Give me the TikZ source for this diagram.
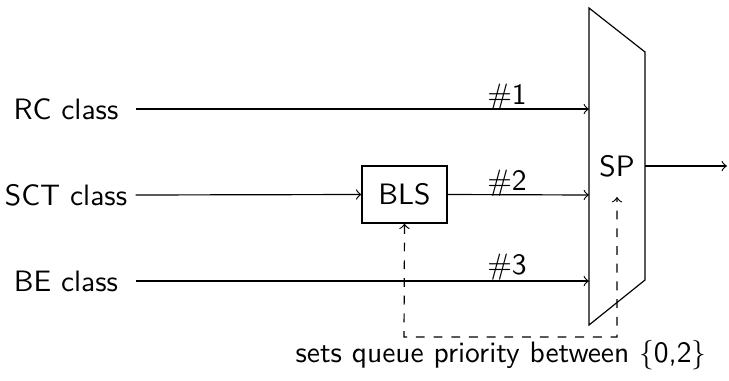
\documentclass[tikz,border=0pt]{standalone}
\usetikzlibrary{arrows}
\begin{document}
\begin{tikzpicture}[x=0.3389pt,y=-0.3389pt,
  font=\sffamily,
  every node/.style={inner sep=0pt},
  cls/.style={minimum width=46.8pt},
  blsbox/.style={draw,minimum width=28.8pt,minimum height=19.3pt},
  lbl/.style={anchor=base},
  conn/.style={->},
  dashconn/.style={<->,dashed}]
\useasboundingbox (0,0) rectangle (729,380);
% SP trapezoid
\draw (589,8) -- (645,52) -- (645,280) -- (589,325) -- cycle;
\node (sp) at (617,166) {SP};
\coordinate (in1) at (589,109);
\coordinate (in2) at (589,195);
\coordinate (in3) at (589,281);
\coordinate (spout) at (645,166);
\coordinate (out) at (727,166);
\coordinate (sel) at (617,197);
% inputs
\node[cls] (rc) at (66,109) {RC class};
\node[cls] (sct) at (66,195) {SCT class};
\node[cls] (be) at (66,281) {BE class};
\node[blsbox] (bls) at (404.5,194.5) {BLS};
\draw[conn] (rc.east) -- (in1);
\draw[conn] (sct.east) -- (bls.west);
\draw[conn] (bls.east) -- (in2);
\draw[conn] (be.east) -- (in3);
\draw[conn] (spout) -- (out);
\node[lbl] (l1) at (507,104) {$\#$1};
\node[lbl] (l2) at (507,190) {$\#$2};
\node[lbl] (l3) at (507,274) {$\#$3};
% dashed control
\draw[dashconn] (bls.south) -- (404,337) -- (617,337) -- (sel);
\node[lbl] (note) at (501,362) {sets queue priority between $\{$0,2$\}$};
\end{tikzpicture}
\end{document}
